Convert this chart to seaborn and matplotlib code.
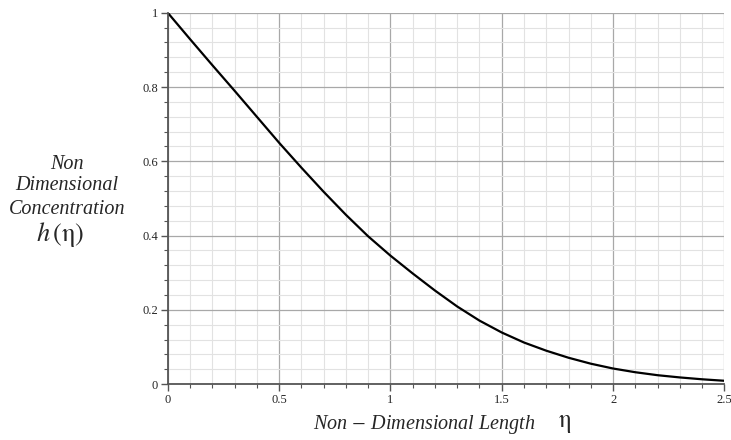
import matplotlib
matplotlib.use("Agg")
import matplotlib.pyplot as plt
import seaborn as sns
import pandas as pd
from matplotlib.ticker import MultipleLocator, FuncFormatter

# values
eta = [0.0, 0.1, 0.2, 0.3, 0.4, 0.5, 0.6, 0.7, 0.8, 0.9, 1.0, 1.1, 1.2,
       1.3, 1.4, 1.5, 1.6, 1.7, 1.8, 1.9, 2.0, 2.1, 2.2, 2.3, 2.4, 2.5]
h_eta = [1.0, 0.929, 0.859, 0.790, 0.720, 0.650, 0.583, 0.518, 0.456, 0.398,
         0.346, 0.298, 0.252, 0.209, 0.171, 0.139, 0.112, 0.090, 0.071, 0.055,
         0.042, 0.032, 0.024, 0.018, 0.013, 0.009]
x_ticks = [0, 0.5, 1, 1.5, 2, 2.5]
y_ticks = [0, 0.2, 0.4, 0.6, 0.8, 1]
ylabel_lines = ["Non", "Dimensional", "Concentration"]

sns.set_style("white")
plt.rcParams["font.family"] = ["Liberation Serif", "DejaVu Serif"]
plt.rcParams["mathtext.fontset"] = "stix"

df = pd.DataFrame({"eta": eta, "h": h_eta})

fig = plt.figure(figsize=(7.31, 4.40), dpi=100)
ax = fig.add_axes([0.2295, 0.127, 0.7615, 0.844])

sns.lineplot(data=df, x="eta", y="h", ax=ax, color="black", linewidth=1.6)

ax.set_xlim(0, 2.5)
ax.set_ylim(0, 1)
ax.set_xticks(x_ticks)
ax.set_yticks(y_ticks)
ax.xaxis.set_minor_locator(MultipleLocator(0.1))
ax.yaxis.set_minor_locator(MultipleLocator(0.04))
fmt = FuncFormatter(lambda v, p: f"{v:g}")
ax.xaxis.set_major_formatter(fmt)
ax.yaxis.set_major_formatter(fmt)

# grids
ax.grid(which="major", color="#a8a8a8", linewidth=0.9)
ax.grid(which="minor", color="#e2e2e2", linewidth=0.8)
ax.set_axisbelow(True)

for s in ["top", "right"]:
    ax.spines[s].set_visible(False)
for s in ["left", "bottom"]:
    ax.spines[s].set_color("#555555")
    ax.spines[s].set_linewidth(1.3)

ax.tick_params(which="major", direction="out", length=5, width=1,
               color="#555555", labelsize=9, pad=2,
               left=True, bottom=True)
ax.tick_params(which="minor", direction="out", length=3, width=0.8,
               color="#555555", left=True, bottom=True)

ax.set_xlabel("")
ax.set_ylabel("")

fig.text(424 / 731, 1 - 424 / 440, "Non $-$ Dimensional Length",
         style="italic", fontsize=14.5, ha="center", va="center")
fig.text(565 / 731, 1 - 424 / 440, "$\\mathrm{\\eta}$", fontsize=18,
         ha="center", va="center")

ys = [164, 185, 209]
for line, yp in zip(ylabel_lines, ys):
    fig.text(67 / 731, 1 - yp / 440, line, style="italic", fontsize=14.5,
             ha="center", va="center")
fig.text(60 / 731, 1 - 234 / 440, "$h\\,(\\mathrm{\\eta})$", fontsize=19,
         ha="center", va="center")

fig.savefig("out.png", dpi=100)
